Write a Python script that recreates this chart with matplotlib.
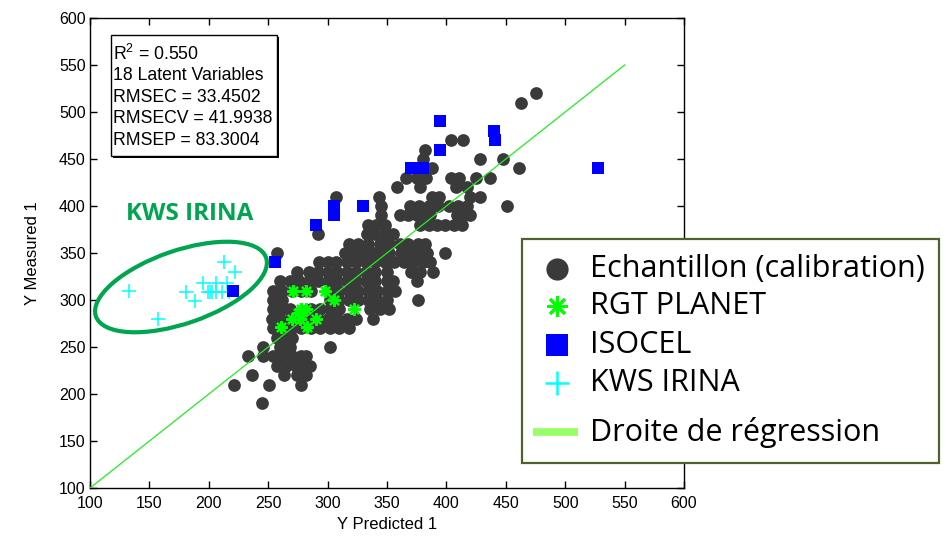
import matplotlib
matplotlib.use("Agg")
import matplotlib.pyplot as plt
from matplotlib.patches import Ellipse, Rectangle
from matplotlib.lines import Line2D
from matplotlib.transforms import Affine2D

# ---------------- data ----------------
# calibration samples, grouped by measured value (rows of 10)
calib_rows = {
    520: [475],
    510: [463],
    470: [404, 414],
    460: [382],
    450: [380, 428, 448],
    440: [372, 388, 461],
    430: [366, 375, 383, 404, 411, 425, 437],
    420: [358, 378, 408, 417],
    410: [307, 343, 388, 394, 420, 428],
    400: [345, 369, 377, 385, 393, 402, 410, 417, 451],
    390: [345, 361, 368, 375, 381, 386, 409, 415, 420],
    380: [334, 341, 348, 378, 385, 392, 399, 406, 413],
    370: [292, 333, 340, 348, 355],
    360: [318, 326, 334, 344, 352, 361, 368, 376, 382],
    350: [257, 315, 322, 330, 338, 345, 352, 362, 370, 378, 384, 399],
    340: [293, 300, 307, 316, 324, 332, 340, 348, 356, 364, 372, 380, 386],
    330: [274, 284, 292, 300, 308, 316, 324, 332, 340, 350, 370, 378, 389],
    320: [260, 268, 276, 284, 292, 300, 308, 316, 324, 332, 340, 350, 355, 375],
    310: [254, 262, 270, 278, 286, 302, 310, 318, 326, 334, 342, 350, 357],
    300: [254, 262, 302, 310, 318, 326, 334, 342, 350, 376],
    290: [254, 262, 268, 286, 294, 302, 310, 336, 344, 352],
    280: [253, 260, 268, 276, 284, 292, 300, 308, 316, 324, 338],
    270: [254, 262, 270, 278, 286, 294, 302, 310, 318],
    260: [257, 265, 270],
    250: [246, 260, 268, 302],
    240: [233, 246, 254, 262, 270, 278, 282],
    230: [257, 265, 273, 281, 285],
    220: [236, 263, 274, 282],
    210: [221, 251, 278],
    190: [245],
}

rgt_pred = [271, 282, 298, 305, 322, 278, 282, 275, 270, 277, 290, 261, 283]
rgt_meas = [310, 310, 310, 300, 290, 290, 290, 286, 280, 280, 280, 271, 271]

isocel_pred = [220, 256, 290, 305, 305, 330, 370, 380, 395, 395, 440, 441, 528]
isocel_meas = [310, 340, 380, 390, 400, 400, 440, 440, 490, 460, 480, 470, 440]

kws_pred = [133, 157, 181, 188, 195, 199, 201, 203, 206, 206, 211, 215, 213, 222, 217]
kws_meas = [310, 280, 309, 299, 318, 309, 309, 309, 318, 309, 309, 318, 340, 330, 309]

line_x = [100, 550]
line_y = [100, 550]

stats_lines = ["R$^{2}$ = 0.550", "18 Latent Variables", "RMSEC = 33.4502",
               "RMSECV = 41.9938", "RMSEP = 83.3004"]
legend_labels = ["Echantillon (calibration)", "RGT PLANET", "ISOCEL",
                 "KWS IRINA", "Droite de régression"]

calib_pred = [x for y, xs in calib_rows.items() for x in xs]
calib_meas = [y for y, xs in calib_rows.items() for _ in xs]

# ---------------- figure ----------------
plt.rcParams['font.family'] = ['Liberation Sans', 'DejaVu Sans']
plt.rcParams['mathtext.fontset'] = 'custom'
plt.rcParams['mathtext.rm'] = 'Liberation Sans'
plt.rcParams['mathtext.it'] = 'Liberation Sans'

W, H = 946, 536
fig = plt.figure(figsize=(W / 100, H / 100), dpi=100)
# pixel coordinates measured from the top-left corner
PIX = Affine2D().scale(0.01, -0.01).translate(0, H / 100) + fig.dpi_scale_trans

ax = fig.add_axes([90 / W, 1 - 488 / H, (684 - 90) / W, (488 - 18) / H])

dark = '#3a3a3a'
ax.scatter(calib_pred, calib_meas, s=84, c=dark, marker='o', linewidths=0, zorder=2)
ax.plot(line_x, line_y, color='#22ee22', lw=0.9, zorder=3)
ax.plot(rgt_pred, rgt_meas, ls='none', marker=(8, 2, 0), ms=9, mew=1.6,
        color='#00ff00', zorder=4)
ax.plot(kws_pred, kws_meas, ls='none', marker='+', ms=10, mew=1.1,
        color='#00ffff', zorder=4)
ax.scatter(isocel_pred, isocel_meas, s=78, c='#0000ff', marker='s', linewidths=0, zorder=5)

ax.set_xlim(100, 600)
ax.set_ylim(100, 600)
ax.set_xticks(range(100, 601, 50))
ax.set_yticks(range(100, 601, 50))
ax.tick_params(direction='in', top=True, right=True, length=5, width=1,
               labelsize=11.5, colors='black')
ax.tick_params(axis='x', pad=6)
ax.tick_params(axis='y', pad=3)
for sp in ax.spines.values():
    sp.set_linewidth(1.0)
ax.set_xlabel("Y Predicted 1", fontsize=12)
ax.set_ylabel("Y Measured 1", fontsize=12)
ax.xaxis.set_label_coords(0.5, (488 - 517) / 470)
ax.yaxis.set_label_coords((40 - 90) / 594, 0.5)

# statistics box
fig.add_artist(Rectangle((113, 37), 166, 121, transform=PIX, fc='black', ec='none', zorder=6))
fig.add_artist(Rectangle((111, 35), 166, 121, transform=PIX, fc='white', ec='black',
                         lw=1, zorder=7))
for i, txt in enumerate(stats_lines):
    fig.text(113, 54 + i * 21.6, txt, transform=PIX, fontsize=12.7, va='center',
             ha='left', zorder=8)

# group annotation
fig.add_artist(Ellipse((181, 287), 180, 73, angle=-19, transform=PIX, fill=False,
                       ec='#00a550', lw=3, zorder=6))
fig.text(190, 214, "KWS IRINA", transform=PIX, fontsize=17.5, fontweight='bold',
         color='#00a550', ha='center', va='center', family='Open Sans', zorder=6)

# legend panel
fig.add_artist(Rectangle((522, 239), 417, 224, transform=PIX, fc='white', ec='#4f6228',
                         lw=1.6, zorder=10))
rows_y = [269, 306, 345, 383, 432]
mk = dict(transform=PIX, ls='none', zorder=11)
fig.add_artist(Line2D([557], [rows_y[0]], marker='o', ms=16, color=dark, mew=0, **mk))
fig.add_artist(Line2D([557], [rows_y[1]], marker=(8, 2, 0), ms=15, mew=2, color='#00ff00', **mk))
fig.add_artist(Line2D([557], [rows_y[2]], marker='s', ms=16, color='#0000ff', mew=0, **mk))
fig.add_artist(Line2D([557], [rows_y[3]], marker='+', ms=17, mew=1.8, color='#00ffff', **mk))
fig.add_artist(Line2D([533, 578], [rows_y[4], rows_y[4]], transform=PIX, color='#99ff66',
                      lw=5.5, solid_capstyle='butt', zorder=11))
for yy, lab in zip(rows_y, legend_labels):
    fig.text(590, yy, lab, transform=PIX, fontsize=22, va='center', ha='left',
             family='Open Sans', zorder=11)

fig.savefig("out.png", dpi=100)
